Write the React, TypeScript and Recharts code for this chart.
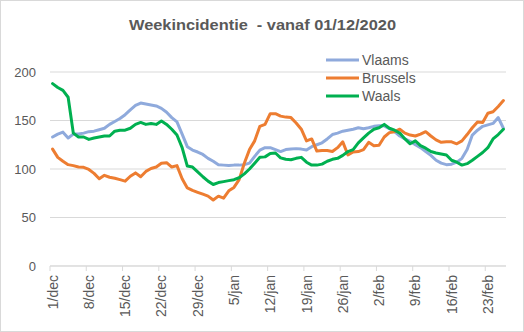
import React from "react";
import { LineChart, Line, XAxis, YAxis, CartesianGrid } from "recharts";

// ---- data (daily, 1 Dec 2020 .. 26 Feb 2021) ----
const monthNames = ["dec", "jan", "feb"];
const monthDays = [31, 31, 26];

const vlaams = [
  133, 136, 138, 132, 136, 136, 137, 138.5, 139, 140.5,
  142, 146, 149, 152, 156, 161, 165.5, 168, 167, 166,
  165, 162.5, 158.5, 153, 148.5, 136, 123, 119.5, 117.5, 115,
  111, 108, 104.5, 104, 103.5, 104, 104, 104.5, 106, 113,
  119.5, 122, 122, 120, 118, 120, 120.5, 121, 120.5, 119.5,
  123, 125, 127, 131, 135.5, 137, 139, 140, 141, 142.5,
  141.5, 142.5, 144, 144.5, 144.5, 141.5, 138.5, 134, 131, 128.5,
  125, 122, 118, 114, 109, 106, 104.5, 105, 107, 111,
  120, 135, 140, 144, 145.5, 147, 153, 142,
];

const brussels = [
  120.5, 112, 108, 104.5, 103.5, 102, 101.7, 99.5, 95.5, 90,
  93.5, 91.5, 90.5, 89, 87.5, 92.5, 96, 92, 97.5, 100.5,
  102, 106, 106.5, 102, 103.5, 90, 80.5, 78, 76, 74,
  72, 68, 72, 70, 77.5, 81, 89, 106, 120, 129,
  144, 146, 157, 157, 154.5, 153.5, 153, 147.5, 141, 129,
  131, 118.5, 119, 119, 118, 122, 128, 114.5, 117.5, 118,
  120, 127.5, 124, 124.5, 133, 137.5, 138.5, 141, 137, 135,
  134, 136, 138.5, 134, 130, 127.5, 128, 128, 126, 129,
  135.5, 142.5, 148.5, 148, 157.5, 159, 164.5, 170.5,
];

const waals = [
  188, 184, 181, 174, 137, 133, 133, 130.5, 132, 133,
  134, 134, 139, 140, 140, 142, 146, 148, 146, 147,
  146, 149.5, 146, 141, 135, 122, 103, 102, 97, 92,
  87.5, 84, 86, 87, 88, 89, 91, 95, 100, 106,
  112, 112.5, 116, 116.5, 111.5, 110, 109.5, 111, 112, 107,
  104, 104, 105, 108, 110, 111, 114, 118, 120, 127,
  132, 137, 141, 142.5, 146, 142, 140, 137, 131, 126,
  129, 124, 121.5, 118, 116.5, 115.5, 114.5, 109, 107, 104,
  105.5, 109, 113, 117, 122, 131, 135.5, 141,
];

const yTicks = [0, 50, 100, 150, 200];
const xTickIndices = [0, 7, 14, 21, 28, 35, 42, 49, 56, 63, 70, 77, 84];

const seriesNames = ["Vlaams", "Brussels", "Waals"];
const seriesColors = ["#8FAADC", "#ED7D31", "#00B050"];

// category labels
const dates: string[] = [];
monthNames.forEach((m, mi) => {
  for (let d = 1; d <= monthDays[mi]; d++) dates.push(`${d}/${m}`);
});

const data = dates.map((date, i) => ({
  idx: i,
  date,
  Vlaams: vlaams[i],
  Brussels: brussels[i],
  Waals: waals[i],
}));

const TEXT = "#595959";
const GRID = "#D9D9D9";
const FONT = "'Liberation Sans', Arial, sans-serif";
const HALF_BAND = 2.6;

const XTick = (props: any) => {
  const { x, y, payload } = props;
  const label = dates[payload.value];
  return (
    <g>
      <line x1={x - HALF_BAND} x2={x - HALF_BAND} y1={y - 9} y2={y - 4} stroke={GRID} strokeWidth={1} />
      <text
        x={x}
        y={y}
        transform={`rotate(-90, ${x}, ${y})`}
        textAnchor="end"
        dy="0.36em"
        fill={TEXT}
        fontSize={14}
        fontFamily={FONT}
      >
        {label}
      </text>
    </g>
  );
};

export default function App() {
  return (
    <div style={{ position: "absolute", left: 0, top: 0, width: 524, height: 332, background: "#fff" }}>
      <LineChart
        width={524}
        height={332}
        data={data}
        margin={{ top: 72, right: 18, bottom: 6, left: 0 }}
      >
        <CartesianGrid horizontal vertical={false} stroke={GRID} strokeWidth={1} />
        <XAxis
          type="number"
          dataKey="idx"
          domain={[-0.5, 87.5]}
          ticks={xTickIndices}
          interval={0}
          height={60}
          axisLine={{ stroke: GRID, strokeWidth: 1 }}
          tickLine={false}
          tickSize={0}
          tickMargin={9}
          tick={<XTick />}
        />
        <YAxis
          type="number"
          domain={[0, 200]}
          ticks={yTicks}
          width={50}
          axisLine={false}
          tickLine={false}
          tickSize={0}
          tickMargin={14}
          tick={{ fill: TEXT, fontSize: 13, fontFamily: FONT }}
        />
        {seriesNames.map((name, i) => (
          <Line
            key={name}
            type="linear"
            dataKey={name}
            stroke={seriesColors[i]}
            strokeWidth={3}
            dot={false}
            activeDot={false}
            strokeLinejoin="round"
            strokeLinecap="round"
            isAnimationActive={false}
          />
        ))}
      </LineChart>
      <svg
        width={524}
        height={332}
        style={{ position: "absolute", left: 0, top: 0, pointerEvents: "none" }}
      >
        <text
          x={262.5}
          y={29.5}
          textAnchor="middle"
          fontFamily={FONT}
          fontWeight="bold"
          fontSize={15}
          fill={TEXT}
          textLength={267}
          lengthAdjust="spacingAndGlyphs"
          style={{ whiteSpace: "pre" }}
        >
          {"Weekincidentie  - vanaf 01/12/2020"}
        </text>
        {seriesNames.map((name, i) => (
          <g key={name}>
            <line x1={326} x2={359} y1={60 + i * 18} y2={60 + i * 18} stroke={seriesColors[i]} strokeWidth={3} />
            <text x={362} y={65 + i * 18} fontFamily={FONT} fontSize={14} fill={TEXT}>
              {name}
            </text>
          </g>
        ))}
      </svg>
      <div
        style={{
          position: "absolute",
          left: 0,
          top: 0,
          width: 524,
          height: 332,
          border: "1px solid #D9D9D9",
          boxSizing: "border-box",
          pointerEvents: "none",
        }}
      />
    </div>
  );
}
